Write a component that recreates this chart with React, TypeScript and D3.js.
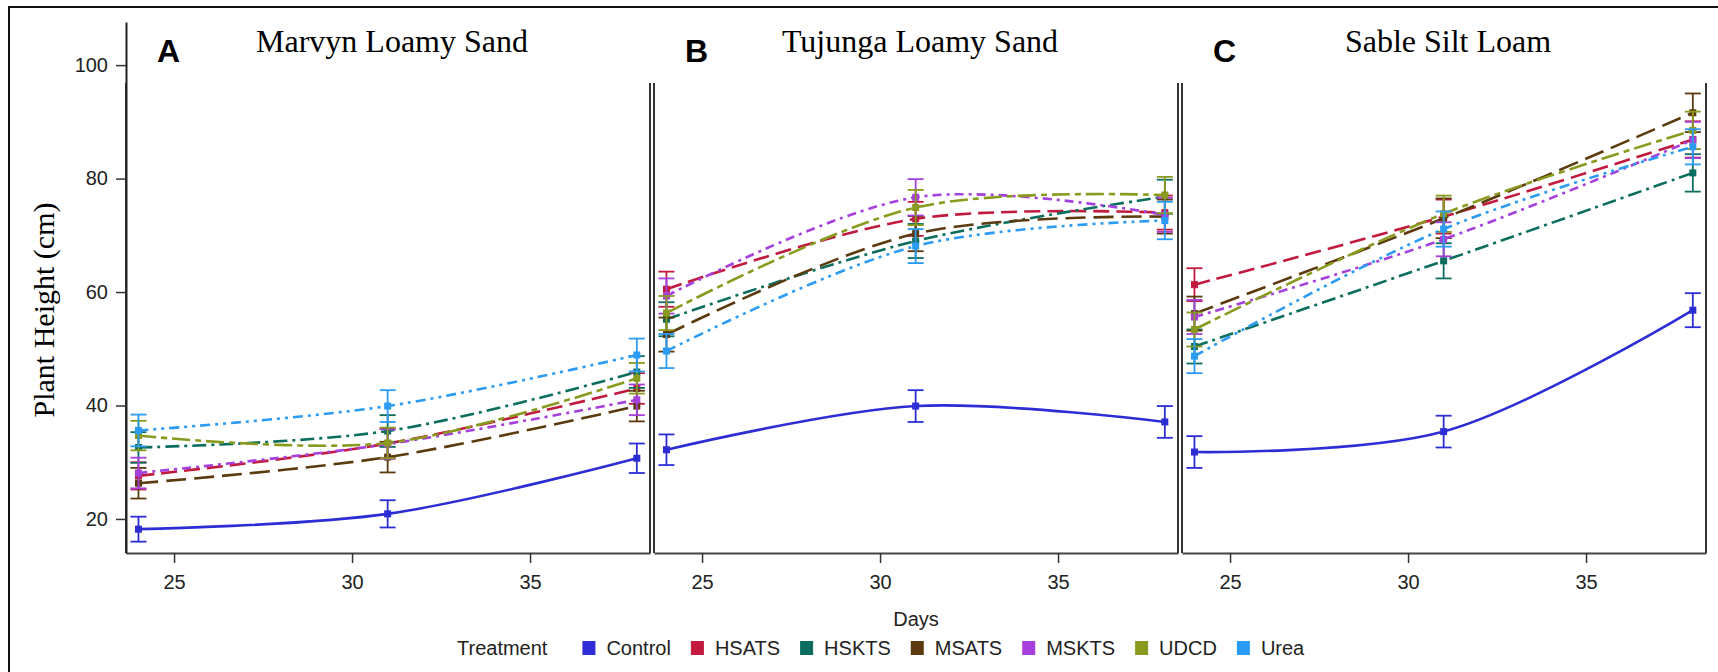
import * as d3 from 'd3'
import React, { useEffect, useRef } from 'react'

// Sampling days and treatments
const days = [24, 31, 38]
const treatments = ['Control', 'HSATS', 'HSKTS', 'MSATS', 'MSKTS', 'UDCD', 'Urea']
const colors = ['#2d2dd6', '#c21a3e', '#0b6e5f', '#5b3a0e', '#a640dc', '#8a9a1e', '#2b9bf4']
const dashes = ['', '16 7', '14 5 3 5', '20 8', '9 5 3 5', '18 5 6 5', '10 5 3 5 3 5']

const xTicks = [25, 30, 35]
const yTicks = [20, 40, 60, 80, 100]

// Mean plant height (cm), rows follow treatments
const marvynMeans = [
    [18.2, 20.9, 30.7],
    [27.6, 33.3, 43.0],
    [32.6, 35.5, 45.9],
    [26.3, 30.9, 39.9],
    [28.1, 33.2, 41.0],
    [34.7, 33.4, 44.8],
    [35.6, 39.9, 48.9],
]
const marvynSE = [
    [2.2, 2.4, 2.6],
    [2.4, 2.6, 2.7],
    [2.7, 2.8, 2.8],
    [2.7, 2.7, 2.7],
    [2.7, 2.6, 2.7],
    [2.6, 2.7, 2.7],
    [2.8, 2.8, 2.9],
]

const tujungaMeans = [
    [32.2, 39.9, 37.1],
    [60.5, 72.9, 74.0],
    [55.2, 69.0, 76.8],
    [52.5, 70.3, 73.3],
    [59.3, 76.7, 73.6],
    [56.3, 74.9, 77.1],
    [49.6, 68.1, 72.6],
]
const tujungaSE = [
    [2.7, 2.8, 2.8],
    [3.1, 3.0, 3.0],
    [3.0, 3.0, 3.0],
    [3.0, 3.1, 3.0],
    [3.1, 3.2, 3.0],
    [3.0, 3.1, 3.2],
    [3.0, 3.0, 3.3],
]

const sableMeans = [
    [31.8, 35.4, 56.8],
    [61.3, 73.3, 86.9],
    [50.4, 65.5, 81.0],
    [56.2, 73.0, 91.6],
    [55.6, 69.3, 86.8],
    [53.4, 73.8, 88.5],
    [48.7, 71.1, 85.6],
]
const sableSE = [
    [2.8, 2.8, 3.0],
    [2.9, 3.0, 3.2],
    [3.0, 3.1, 3.3],
    [3.0, 3.5, 3.4],
    [3.0, 3.0, 3.2],
    [3.0, 3.2, 3.3],
    [3.0, 3.1, 3.1],
]

const panels = [
    { letter: 'A', title: 'Marvyn Loamy Sand', means: marvynMeans, se: marvynSE },
    { letter: 'B', title: 'Tujunga Loamy Sand', means: tujungaMeans, se: tujungaSE },
    { letter: 'C', title: 'Sable Silt Loam', means: sableMeans, se: sableSE },
]

const W = 1718
const H = 672
const sansFont = 'Liberation Sans, Arial, sans-serif'
const serifFont = 'Liberation Serif, Times New Roman, serif'

const App = () => {
    const ref = useRef<SVGSVGElement>(null)

    useEffect(() => {
        document.body.style.margin = '0'
        const svg = d3.select(ref.current)
        svg.selectAll('*').remove()

        // Outer frame (cut off on the right and bottom)
        svg.append('rect')
            .attr('x', 9).attr('y', 7)
            .attr('width', W + 20).attr('height', H + 20)
            .attr('fill', 'none').attr('stroke', '#111').attr('stroke-width', 2)

        const plotTop = 22
        const frameTop = 83
        const plotBottom = 553
        const panelW = 524
        const panelLefts = [126, 654, 1182]

        const y = d3.scaleLinear().domain([14, 107.6]).range([plotBottom, plotTop])

        panels.forEach((p, pi) => {
            const left = panelLefts[pi]
            const x = d3.scaleLinear().domain([23.65, 38.37]).range([left, left + panelW])
            const g = svg.append('g')

            // x axis
            const xa = g.append('g')
                .attr('transform', `translate(0,${plotBottom})`)
                .call(d3.axisBottom(x).tickValues(xTicks).tickSize(10).tickSizeOuter(0).tickPadding(12))
            xa.select('.domain').attr('stroke', '#444').attr('stroke-width', 2)
            xa.selectAll('line').attr('stroke', '#333').attr('stroke-width', 1.5)
            xa.selectAll('text').style('font-family', sansFont).style('font-size', '20px').attr('fill', '#222')

            // panel side lines
            g.append('line')
                .attr('x1', left).attr('x2', left).attr('y1', frameTop).attr('y2', plotBottom)
                .attr('stroke', '#333').attr('stroke-width', 2)
            g.append('line')
                .attr('x1', left + panelW).attr('x2', left + panelW).attr('y1', frameTop).attr('y2', plotBottom)
                .attr('stroke', '#333').attr('stroke-width', 2)

            if (pi === 0) {
                const ya = g.append('g')
                    .attr('transform', `translate(${left},0)`)
                    .call(d3.axisLeft(y).tickValues(yTicks).tickSize(10).tickSizeOuter(0).tickPadding(8))
                ya.select('.domain').attr('stroke', '#222').attr('stroke-width', 2)
                ya.selectAll('line').attr('stroke', '#333').attr('stroke-width', 1.5)
                ya.selectAll('text').style('font-family', sansFont).style('font-size', '20px').attr('fill', '#222')
            }

            // titles
            g.append('text')
                .attr('x', left + panelW / 2 + 4).attr('y', 52)
                .attr('text-anchor', 'middle')
                .style('font-family', serifFont).style('font-size', '32px')
                .text(p.title)
            g.append('text')
                .attr('x', left + 31).attr('y', 62)
                .style('font-family', sansFont).style('font-size', '32px').style('font-weight', 'bold')
                .text(p.letter)

            const line = d3.line<number>()
                .x((_, i) => x(days[i]))
                .y(d => y(d))
                .curve(d3.curveCatmullRom.alpha(0.5))

            treatments.forEach((t, ti) => {
                const m = p.means[ti]
                const se = p.se[ti]
                const c = colors[ti]
                const sg = g.append('g')

                // error bars
                m.forEach((v, i) => {
                    const cx = x(days[i])
                    const y1 = y(v + se[i])
                    const y2 = y(v - se[i])
                    sg.append('line').attr('x1', cx).attr('x2', cx).attr('y1', y1).attr('y2', y2)
                        .attr('stroke', c).attr('stroke-width', 1.8)
                    sg.append('line').attr('x1', cx - 8).attr('x2', cx + 8).attr('y1', y1).attr('y2', y1)
                        .attr('stroke', c).attr('stroke-width', 1.8)
                    sg.append('line').attr('x1', cx - 8).attr('x2', cx + 8).attr('y1', y2).attr('y2', y2)
                        .attr('stroke', c).attr('stroke-width', 1.8)
                })

                sg.append('path')
                    .attr('d', line(m))
                    .attr('fill', 'none')
                    .attr('stroke', c)
                    .attr('stroke-width', 2.6)
                    .attr('stroke-dasharray', dashes[ti])

                sg.selectAll('rect')
                    .data(m)
                    .enter()
                    .append('rect')
                    .attr('x', (_, i) => x(days[i]) - 3.5)
                    .attr('y', d => y(d) - 3.5)
                    .attr('width', 7).attr('height', 7)
                    .attr('fill', c)
            })
        })

        // axis titles
        svg.append('text')
            .attr('transform', 'translate(54,310) rotate(-90)')
            .attr('text-anchor', 'middle')
            .style('font-family', serifFont).style('font-size', '30px')
            .text('Plant Height (cm)')
        svg.append('text')
            .attr('x', 916).attr('y', 626)
            .attr('text-anchor', 'middle')
            .style('font-family', sansFont).style('font-size', '20px').attr('fill', '#222')
            .text('Days')

        // legend
        const lg = svg.append('g')
        const baseY = 655
        const lt = lg.append('text')
            .attr('x', 457).attr('y', baseY)
            .style('font-family', sansFont).style('font-size', '20px').attr('fill', '#222')
            .text('Treatment')
        let cursor = 457 + (lt.node() as SVGTextElement).getComputedTextLength() + 35
        treatments.forEach((t, ti) => {
            lg.append('rect')
                .attr('x', cursor).attr('y', baseY - 14)
                .attr('width', 13).attr('height', 14)
                .attr('fill', colors[ti])
            const tx = lg.append('text')
                .attr('x', cursor + 24).attr('y', baseY)
                .style('font-family', sansFont).style('font-size', '20px').attr('fill', '#222')
                .text(t)
            cursor += 24 + (tx.node() as SVGTextElement).getComputedTextLength() + 20
        })
    }, [])

    return <svg ref={ref} width={W} height={H} style={{ display: 'block', background: '#fff' }} />
}

export default App
